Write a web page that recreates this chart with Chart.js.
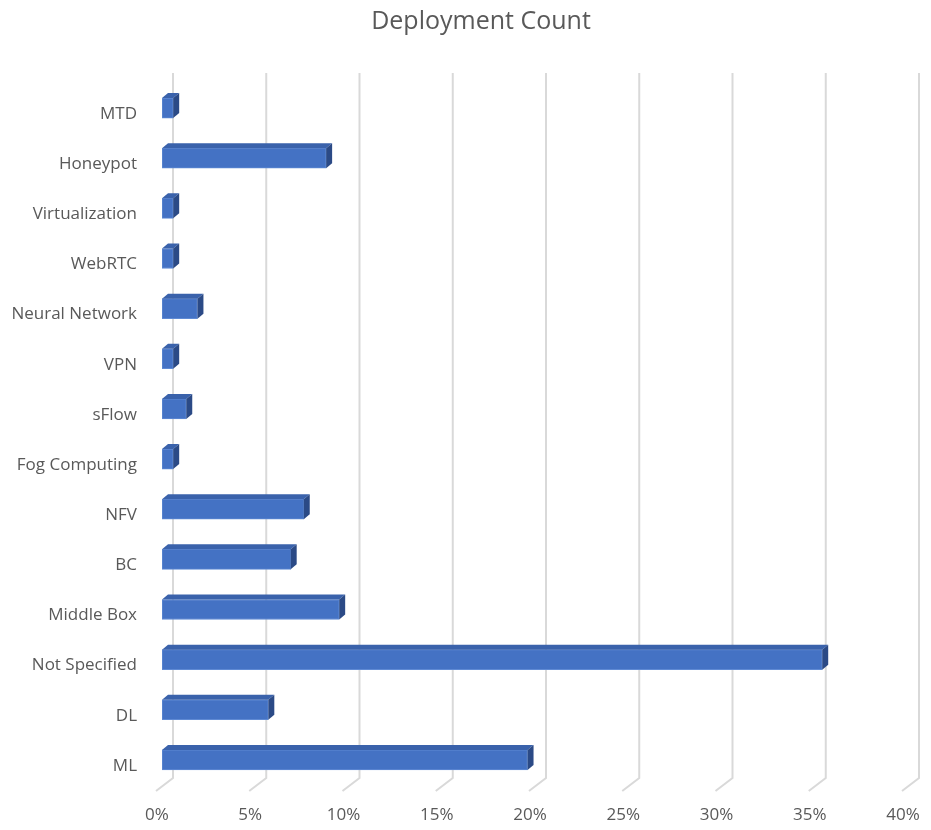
<!DOCTYPE html>
<html>
<head>
<meta charset="utf-8">
<script src="https://cdn.jsdelivr.net/npm/chart.js@4.4.1/dist/chart.umd.min.js"></script>
<style>
  html, body { margin: 0; padding: 0; background: #fff; }
  #wrap { width: 931px; height: 830px; }
</style>
</head>
<body>
<div id="wrap"><canvas id="chart"></canvas></div>
<script>
// dati (percentuali)
const categorie = ['MTD', 'Honeypot', 'Virtualization', 'WebRTC', 'Neural Network', 'VPN', 'sFlow',
  'Fog Computing', 'NFV', 'BC', 'Middle Box', 'Not Specified', 'DL', 'ML'];
const valori = [0.6, 8.8, 0.6, 0.6, 1.9, 0.6, 1.3, 0.6, 7.6, 6.9, 9.5, 35.4, 5.7, 19.6];
const xTicks = [0, 5, 10, 15, 20, 25, 30, 35, 40];
const titolo = 'Deployment Count';

const grigio = '#595959';
const fontBase = '"Open Sans", sans-serif';

// titolo disegnato a mano: nel riferimento non è centrato sul canvas
const titlePlugin = {
  id: 'titolo',
  afterDraw(chart) {
    const { ctx } = chart;
    ctx.save();
    ctx.fillStyle = grigio;
    ctx.font = '25px ' + fontBase;
    ctx.textAlign = 'center';
    ctx.textBaseline = 'middle';
    ctx.fillText(titolo, 481, 22);
    ctx.restore();
  }
};

// griglia "3D": parete di fondo + tratto obliquo sul pavimento
const grid3d = {
  id: 'grid3d',
  beforeDatasetsDraw(chart) {
    const { ctx, scales: { x } } = chart;
    ctx.save();
    ctx.strokeStyle = '#d9d9d9';
    ctx.lineWidth = 2;
    xTicks.forEach(v => {
      const px = x.getPixelForValue(v);
      ctx.beginPath();
      ctx.moveTo(px + 11, 73);
      ctx.lineTo(px + 11, 778);
      ctx.lineTo(px - 6, 791);
      ctx.stroke();
    });
    ctx.restore();
  }
};

// facce superiore e laterale delle barre
const bar3d = {
  id: 'bar3d',
  afterDatasetsDraw(chart) {
    const { ctx } = chart;
    const dx = 6, dy = 5;
    chart.getDatasetMeta(0).data.forEach(bar => {
      const { x, y, base, height } = bar.getProps(['x', 'y', 'base', 'height'], true);
      const top = y - height / 2, bot = y + height / 2;
      ctx.save();
      ctx.fillStyle = '#3a62ab'; // faccia sopra
      ctx.beginPath();
      ctx.moveTo(base, top);
      ctx.lineTo(x, top);
      ctx.lineTo(x + dx, top - dy);
      ctx.lineTo(base + dx, top - dy);
      ctx.closePath();
      ctx.fill();
      ctx.fillStyle = '#2b4a86'; // faccia laterale
      ctx.beginPath();
      ctx.moveTo(x, top);
      ctx.lineTo(x + dx, top - dy);
      ctx.lineTo(x + dx, bot - dy);
      ctx.lineTo(x, bot);
      ctx.closePath();
      ctx.fill();
      ctx.restore();
    });
  }
};

new Chart(document.getElementById('chart'), {
  type: 'bar',
  data: {
    labels: categorie,
    datasets: [{
      data: valori,
      backgroundColor: '#4472c4',
      borderColor: '#5f8ad4',
      borderWidth: 1,
      borderSkipped: false,
      barThickness: 20
    }]
  },
  options: {
    indexAxis: 'y',
    responsive: true,
    maintainAspectRatio: false,
    animation: false,
    layout: { padding: { left: 0, right: 23, top: 83, bottom: 5 } },
    plugins: {
      legend: { display: false },
      tooltip: { enabled: false },
      title: { display: false }
    },
    scales: {
      x: {
        min: 0, max: 40,
        afterBuildTicks: s => { s.ticks = xTicks.map(v => ({ value: v })); },
        afterFit: s => { s.height = 40; s.paddingLeft = 0; s.paddingRight = 0; },
        grid: { display: false, drawTicks: false },
        border: { display: false },
        ticks: {
          color: grigio,
          font: { family: fontBase, size: 17 },
          padding: 20,
          labelOffset: -5,
          maxRotation: 0,
          callback: v => v + '%'
        }
      },
      y: {
        afterFit: s => { s.width = 162; },
        grid: { display: false, drawTicks: false },
        border: { display: false },
        ticks: {
          color: grigio,
          font: { family: fontBase, size: 17 },
          padding: 25,
          labelOffset: 6,
          autoSkip: false
        }
      }
    }
  },
  plugins: [grid3d, bar3d, titlePlugin]
});
</script>
</body>
</html>
